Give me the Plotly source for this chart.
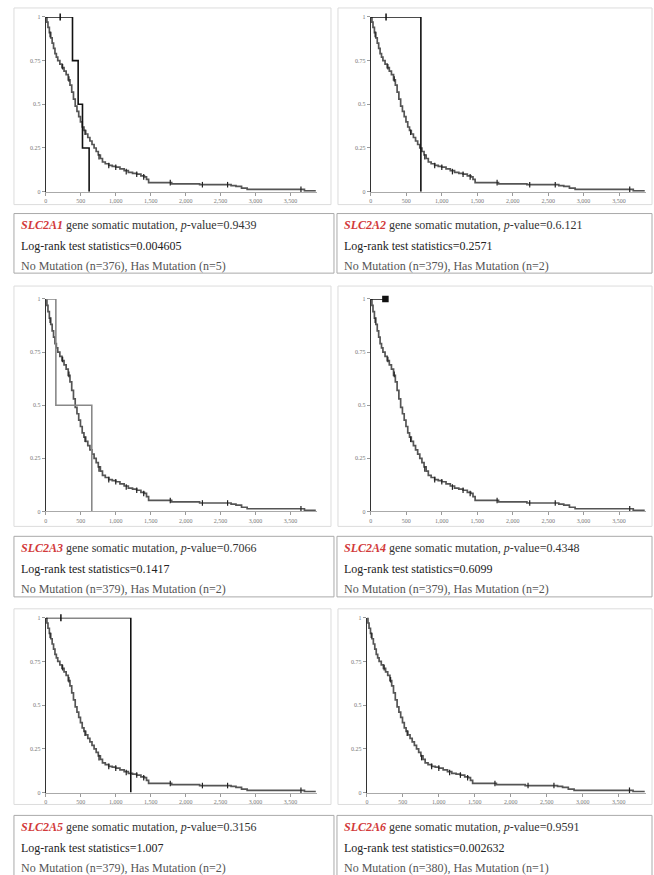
import plotly.graph_objects as go

W, H = 654, 875

# ---------------- data ----------------
genes = ["SLC2A1", "SLC2A2", "SLC2A3", "SLC2A4", "SLC2A5", "SLC2A6"]
p_values = ["0.9439", "0.6.121", "0.7066", "0.4348", "0.3156", "0.9591"]
logrank_stats = ["0.004605", "0.2571", "0.1417", "0.6099", "1.007", "0.002632"]
n_no_mut = [376, 379, 379, 379, 379, 380]
n_has_mut = [5, 2, 2, 2, 2, 1]

# No-mutation Kaplan-Meier curve (days, survival probability)
nomut_t = [0, 15, 30, 50, 70, 90, 110, 130, 150, 170, 200, 230, 260, 290, 320, 345,
           370, 395, 420, 445, 470, 495, 520, 545, 570, 600, 630, 660, 690, 720, 750,
           780, 810, 850, 900, 950, 1000, 1060, 1120, 1180, 1240, 1300, 1360, 1410,
           1440, 1470, 1800, 2200, 2650, 2720, 2800, 2880, 3700, 3850]
nomut_s = [1, 0.97, 0.94, 0.91, 0.88, 0.85, 0.82, 0.79, 0.77, 0.75, 0.73, 0.71, 0.69,
           0.67, 0.64, 0.61, 0.57, 0.53, 0.49, 0.46, 0.43, 0.40, 0.37, 0.35, 0.33, 0.31,
           0.29, 0.27, 0.25, 0.23, 0.21, 0.19, 0.17, 0.16, 0.15, 0.145, 0.14, 0.13, 0.12,
           0.11, 0.105, 0.10, 0.09, 0.085, 0.07, 0.052, 0.045, 0.04, 0.035, 0.03, 0.02,
           0.013, 0.005, 0]
nomut_censor_t = [60, 240, 330, 560, 760, 900, 1000, 1150, 1300, 1400, 1780, 2240, 2600, 3650]
nomut_censor_s = [0.90, 0.715, 0.645, 0.34, 0.20, 0.15, 0.14, 0.115, 0.10, 0.085, 0.052,
                  0.04, 0.04, 0.013]

# Has-mutation curves per gene
mut_t = [[0, 381, 462, 524, 619], [0, 705], [0, 143, 657], [0, 205], [0, 1215], [0]]
mut_s = [[1, 0.75, 0.5, 0.25, 0], [1, 0], [1, 0.5, 0], [1, 1], [1, 0], [1]]
mut_censor_t = [[205], [214], [], [205], [215], []]
mut_censor_s = [[1], [1], [], [1], [1], []]

x_tickvals = [0, 500, 1000, 1500, 2000, 2500, 3000, 3500]
x_ticktext = ["0", "500", "1,000", "1,500", "2,000", "2,500", "3,000", "3,500"]
y_tickvals = [0, 0.25, 0.5, 0.75, 1]
y_ticktext = ["0", "0.25", "0.5", "0.75", "1"]

# ---------------- layout geometry (pixels) ----------------
col_axes = [(44, 316), (370, 646), (44, 316), (370, 646), (44, 316), (366, 646)]
row_axes = [(14, 190), (298, 512), (619, 795)]
plot_boxes_x = [(12, 330), (337, 652)]
plot_boxes_y = [(5, 203), (285, 527), (610, 807)]
text_boxes_x = [(12, 333), (336, 652)]
text_boxes_y = [(212, 272), (537, 598), (818, 880)]
text_lines_dy = [12, 33, 53]

def px(x):
    return x / W

def py(y):
    return 1 - y / H

fig = go.Figure()
shapes = []
annotations = []
layout_axes = {}

for i, gene in enumerate(genes):
    row, col = i // 2, i % 2
    xa = "x" if i == 0 else f"x{i+1}"
    ya = "y" if i == 0 else f"y{i+1}"
    xkey = "xaxis" if i == 0 else f"xaxis{i+1}"
    ykey = "yaxis" if i == 0 else f"yaxis{i+1}"
    x0, x1 = col_axes[i]
    ytop, ybot = row_axes[row]

    layout_axes[xkey] = dict(
        domain=[px(x0), px(x1)], range=[0, 3880], anchor=ya,
        tickvals=x_tickvals, ticktext=x_ticktext, ticks="outside", ticklen=3,
        tickcolor="#999", tickfont=dict(size=6, color="#777", family="Liberation Serif"),
        showline=True, linecolor="#aaa", linewidth=1, showgrid=False, zeroline=False,
        fixedrange=True,
    )
    layout_axes[ykey] = dict(
        domain=[py(ybot), py(ytop)], range=[0, 1], anchor=xa,
        tickvals=y_tickvals, ticktext=y_ticktext, ticks="outside", ticklen=3,
        tickcolor="#999", tickfont=dict(size=6, color="#777", family="Liberation Serif"),
        showline=True, linecolor="#333", linewidth=1.2, showgrid=False, zeroline=False,
        fixedrange=True,
    )

    # No mutation curve
    fig.add_trace(go.Scatter(
        x=nomut_t, y=nomut_s, xaxis=xa, yaxis=ya, mode="lines",
        line=dict(color="#555", width=1.7, shape="hv"), cliponaxis=False,
        showlegend=False, hoverinfo="skip"))
    fig.add_trace(go.Scatter(
        x=nomut_censor_t, y=nomut_censor_s, xaxis=xa, yaxis=ya, mode="markers",
        marker=dict(symbol="line-ns", size=4, line=dict(color="#222", width=1.2)),
        cliponaxis=False, showlegend=False, hoverinfo="skip"))

    # Has mutation curve
    mcolor = "#888" if i == 2 else "#111"
    if len(mut_t[i]) > 1:
        fig.add_trace(go.Scatter(
            x=mut_t[i], y=mut_s[i], xaxis=xa, yaxis=ya, mode="lines",
            line=dict(color=mcolor, width=1.6, shape="hv"), cliponaxis=False,
            showlegend=False, hoverinfo="skip"))
    if mut_censor_t[i]:
        sym = "square" if i == 3 else "line-ns"
        fig.add_trace(go.Scatter(
            x=mut_censor_t[i], y=mut_censor_s[i], xaxis=xa, yaxis=ya, mode="markers",
            marker=dict(symbol=sym, size=5, color="#111",
                        line=dict(color="#111", width=1.5)),
            cliponaxis=False, showlegend=False, hoverinfo="skip"))

    # plot frame
    bx0, bx1 = plot_boxes_x[col]
    by0, by1 = plot_boxes_y[row]
    shapes.append(dict(type="rect", xref="paper", yref="paper",
                       x0=px(bx0), x1=px(bx1), y0=py(by1), y1=py(by0),
                       line=dict(color="#dcdcdc", width=1), layer="below"))
    # text box
    tx0, tx1 = text_boxes_x[col]
    ty0, ty1 = text_boxes_y[row]
    shapes.append(dict(type="rect", xref="paper", yref="paper",
                       x0=px(tx0), x1=px(tx1), y0=py(ty1), y1=py(ty0),
                       line=dict(color="#aaa", width=1), layer="below"))
    lines = [
        f"<b><i><span style='color:#d23a3a'>{gene}</span></i></b> gene somatic mutation, "
        f"<i>p</i>-value={p_values[i]}",
        f"Log-rank test statistics={logrank_stats[i]}",
        f"No Mutation (n={n_no_mut[i]}), Has Mutation (n={n_has_mut[i]})",
    ]
    colors = ["#333", "#222", "#555"]
    for k, txt in enumerate(lines):
        annotations.append(dict(
            xref="paper", yref="paper", x=px(tx0 + 5), y=py(ty0 + text_lines_dy[k]),
            xanchor="left", yanchor="middle", showarrow=False, text=txt,
            font=dict(family="Liberation Serif", size=12, color=colors[k])))

fig.update_layout(
    width=W, height=H, margin=dict(l=0, r=0, t=0, b=0),
    paper_bgcolor="white", plot_bgcolor="white",
    shapes=shapes, annotations=annotations, showlegend=False,
    **layout_axes,
)

fig.write_html("out.html", config={"displayModeBar": False})
